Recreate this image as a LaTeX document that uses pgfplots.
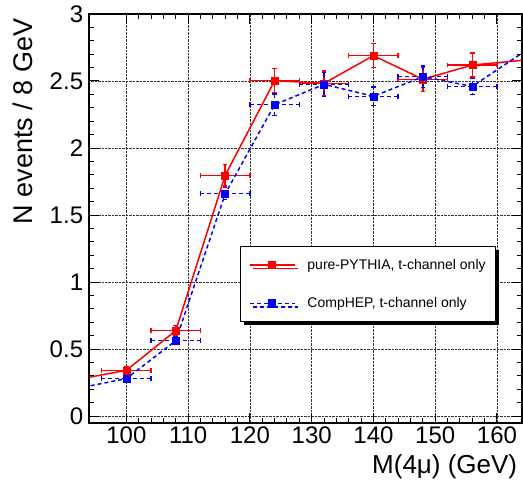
\documentclass[border=0pt]{standalone}
\usepackage{fontspec}
\setmainfont{Liberation Sans}
\usepackage{pgfplots}
\usepackage{pgfplotstable}
\pgfplotsset{compat=1.18}
\usetikzlibrary{shadows}

% pure-PYTHIA, t-channel only
\pgfplotstableread{
x    y     ex  ey
100  0.341 4   0.025
108  0.637 4   0.040
116  1.796 4   0.080
124  2.502 4   0.090
132  2.483 4   0.090
140  2.689 4   0.090
148  2.513 4   0.090
156  2.619 4   0.090
}\pythia

% CompHEP, t-channel only
\pgfplotstableread{
x    y     ex  ey
100  0.279 4   0.020
108  0.562 4   0.030
116  1.659 4   0.045
124  2.323 4   0.080
132  2.475 4   0.090
140  2.386 4   0.070
148  2.532 4   0.080
156  2.460 4   0.060
}\comphep

\pgfplotsset{
  every axis x label/.style={at={(rel axis cs:1,0)}, xshift=-1pt, yshift=-50.3pt,
    anchor=base east, font=\fontsize{26}{26}\selectfont},
  every axis y label/.style={at={(rel axis cs:0,1)}, xshift=-56.3pt, yshift=-1pt,
    rotate=90, anchor=base east, font=\fontsize{27}{27}\selectfont},
}

\begin{document}
\begin{tikzpicture}
\begin{axis}[
  scale only axis,
  width=432.4pt, height=408.7pt,
  xmin=94, xmax=164, ymin=-0.05, ymax=3,
  xtick={100,110,...,160},
  ytick={0,0.5,1,1.5,2,2.5,3},
  minor x tick num=4, minor y tick num=4,
  tick align=inside,
  major tick length=10pt, minor tick length=5pt,
  every tick/.style={black, line width=1pt},
  axis line style={line width=2pt},
  grid=major,
  major grid style={densely dotted, black!80, line width=0.6pt},
  tick label style={font=\fontsize{24}{24}\selectfont},
  /pgf/number format/assume math mode=true,
  xticklabel style={inner sep=0pt, anchor=north, yshift=-4pt},
  yticklabel style={inner sep=0pt, anchor=east, xshift=-6pt},
  xlabel={M(4μ) (GeV)},
  ylabel={N events / 8 GeV},
  legend image code/.code={\draw[mark repeat=2,mark phase=2,#1] plot coordinates {(0pt,0pt) (22.5pt,0pt) (45pt,0pt)};},
  legend cell align=left,
  legend style={at={(axis cs:118.47,1.269)}, anchor=north west, draw=black, line width=1pt,
    fill=white, drop shadow={shadow xshift=3.5pt, shadow yshift=-3.5pt, opacity=1, fill=black},
    font=\fontsize{14}{16}\selectfont, inner xsep=8pt, inner ysep=10.5pt, row sep=23pt, column sep=10pt},
]
% lines (continue to the frame edges)
\addplot[red, line width=1.5pt, forget plot] coordinates {
  (92,0.272) (100,0.341) (108,0.637) (116,1.796) (124,2.502) (132,2.483)
  (140,2.689) (148,2.513) (156,2.619) (164,2.654)
};
\addplot[red, only marks, mark=square*, mark size=3.5pt, forget plot,
  error bars/.cd, x dir=both, x explicit, y dir=both, y explicit,
  error bar style={line width=1.5pt, red},
  error mark options={rotate=90, red, mark size=2.3pt, line width=1.5pt}]
  table[x=x, y=y, x error=ex, y error=ey] {\pythia};

\addplot[blue, line width=1.5pt, dash pattern=on 4pt off 3pt, forget plot] coordinates {
  (92,0.206) (100,0.279) (108,0.562) (116,1.659) (124,2.323) (132,2.475)
  (140,2.386) (148,2.532) (156,2.460) (164,2.706)
};
\addplot[blue, only marks, mark=square*, mark size=3.5pt, forget plot,
  error bars/.cd, x dir=both, x explicit, y dir=both, y explicit,
  error bar style={line width=1.5pt, blue, dash pattern=on 4pt off 3pt},
  error mark options={rotate=90, blue, solid, mark size=2.3pt, line width=1.5pt}]
  table[x=x, y=y, x error=ex, y error=ey] {\comphep};

\addlegendimage{red, line width=1.5pt, mark=square*, mark size=3.5pt}
\addlegendentry{pure-PYTHIA, t-channel only}
\addlegendimage{blue, line width=1.5pt, dash pattern=on 4pt off 3pt, mark=square*, mark size=3.5pt, mark options={solid}}
\addlegendentry{CompHEP, t-channel only}
\end{axis}
\pgfresetboundingbox
\path[use as bounding box] ([shift={(-89.3pt,-62.3pt)}]current axis.south west)
  rectangle ([shift={(1.3pt,14pt)}]current axis.north east);
\end{tikzpicture}
\end{document}
